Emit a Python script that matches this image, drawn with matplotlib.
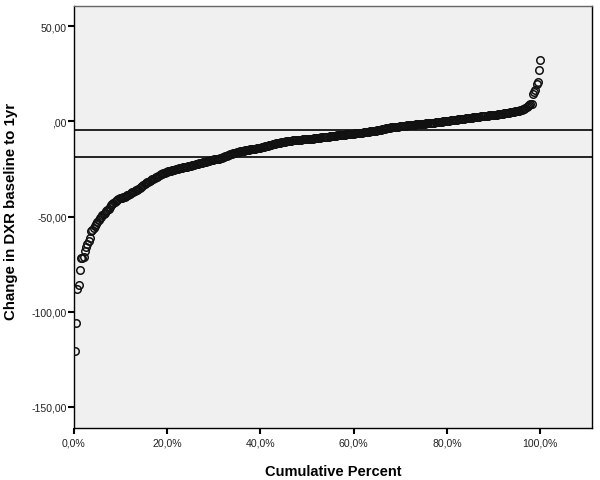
import numpy as np
import pandas as pd
import matplotlib
matplotlib.use("Agg")
import matplotlib.pyplot as plt

# Change in DXR, sorted (one value per case)
change = [
    -120.5, -106.0, -88.0, -86.0, -78.0, -72.0, -71.5, -71.0, -68.0, -66.0, -64.5, -63.0, -61.0, -57.5, -57.0,
    -56.0, -55.0, -54.0, -53.0, -52.0, -51.0, -50.0, -49.0, -48.5, -48.0, -47.0, -46.5, -46.0, -45.0, -44.0,
    -43.5, -43.0, -42.5, -42.0, -41.5, -41.0, -40.5, -40.0, -40.0, -39.5, -39.5, -39.0, -38.5, -38.5, -38.0,
    -37.5, -37.0, -37.0, -36.5, -36.0, -36.0, -35.5, -35.0, -34.5, -34.0, -33.5, -33.0, -32.5, -32.0, -32.0,
    -31.5, -31.0, -30.5, -30.0, -29.5, -29.0, -29.0, -28.5, -28.0, -27.5, -27.5, -27.0, -27.0, -26.5, -26.5,
    -26.0, -26.0, -26.0, -25.5, -25.5, -25.5, -25.0, -25.0, -25.0, -24.5, -24.5, -24.5, -24.0, -24.0, -24.0,
    -24.0, -23.5, -23.5, -23.5, -23.0, -23.0, -23.0, -22.5, -22.5, -22.5, -22.0, -22.0, -22.0, -21.5, -21.5,
    -21.5, -21.0, -21.0, -21.0, -20.5, -20.5, -20.5, -20.0, -20.0, -20.0, -19.5, -19.5, -19.0, -19.0, -18.5,
    -18.5, -18.0, -18.0, -17.5, -17.5, -17.0, -17.0, -16.5, -16.5, -16.5, -16.0, -16.0, -16.0, -15.5, -15.5,
    -15.5, -15.5, -15.0, -15.0, -15.0, -15.0, -14.5, -14.5, -14.5, -14.5, -14.5, -14.0, -14.0, -14.0, -14.0,
    -13.5, -13.5, -13.5, -13.0, -13.0, -13.0, -12.5, -12.5, -12.5, -12.0, -12.0, -12.0, -11.5, -11.5, -11.5,
    -11.5, -11.0, -11.0, -11.0, -11.0, -10.5, -10.5, -10.5, -10.5, -10.5, -10.0, -10.0, -10.0, -10.0, -10.0,
    -9.8, -9.7, -9.6, -9.5, -9.5, -9.4, -9.3, -9.2, -9.2, -9.1, -9.0, -9.0, -8.9, -8.8, -8.8,
    -8.7, -8.6, -8.5, -8.4, -8.4, -8.3, -8.2, -8.1, -8.0, -8.0, -7.9, -7.8, -7.7, -7.6, -7.6,
    -7.5, -7.4, -7.3, -7.2, -7.2, -7.1, -7.0, -6.9, -6.8, -6.8, -6.7, -6.6, -6.6, -6.5, -6.4,
    -6.3, -6.2, -6.2, -6.1, -6.0, -6.0, -5.9, -5.8, -5.7, -5.6, -5.5, -5.4, -5.3, -5.2, -5.1,
    -5.0, -4.9, -4.8, -4.7, -4.6, -4.5, -4.4, -4.2, -4.0, -3.8, -3.6, -3.5, -3.4, -3.3, -3.2,
    -3.1, -3.0, -2.9, -2.9, -2.8, -2.7, -2.6, -2.5, -2.5, -2.4, -2.3, -2.2, -2.1, -2.0, -2.0,
    -1.9, -1.8, -1.8, -1.7, -1.6, -1.6, -1.5, -1.4, -1.4, -1.3, -1.2, -1.2, -1.1, -1.0, -1.0,
    -0.9, -0.8, -0.7, -0.7, -0.6, -0.5, -0.4, -0.4, -0.3, -0.2, -0.1, 0.0, 0.0, 0.1, 0.2,
    0.3, 0.4, 0.5, 0.6, 0.6, 0.7, 0.8, 0.9, 1.0, 1.1, 1.2, 1.3, 1.4, 1.5, 1.6,
    1.7, 1.8, 1.9, 1.9, 2.0, 2.1, 2.2, 2.3, 2.3, 2.4, 2.5, 2.6, 2.6, 2.7, 2.8,
    2.9, 3.0, 3.0, 3.1, 3.2, 3.3, 3.3, 3.4, 3.5, 3.6, 3.7, 3.8, 3.9, 4.0, 4.1,
    4.2, 4.3, 4.4, 4.5, 4.6, 4.7, 4.8, 5.0, 5.1, 5.2, 5.4, 5.5, 5.7, 5.9, 6.1,
    6.4, 6.7, 7.0, 7.4, 7.9, 8.4, 9.0, 9.3, 14.5, 15.5, 16.5, 19.5, 20.5, 27.0, 32.5,
]

# reference lines
ref_lines = [-4.6, -18.6]

y_ticks = [50, 0, -50, -100, -150]
y_tick_labels = ["50,00", ",00", "-50,00", "-100,00", "-150,00"]
x_ticks = [0, 20, 40, 60, 80, 100]
x_tick_labels = ["0,0%", "20,0%", "40,0%", "60,0%", "80,0%", "100,0%"]

df = pd.DataFrame({"change": change})
# cumulative percent the SPSS way: rank / N * 100
df["cum_pct"] = df["change"].rank(method="first", pct=True) * 100

plt.rcParams["font.family"] = ["Liberation Sans", "DejaVu Sans"]

fig = plt.figure(figsize=(6, 4.81), dpi=100)
ax = fig.add_axes([0.1228, 0.1087, 0.8639, 0.8767])
ax.set_facecolor("#f0f0f0")

for y in ref_lines:
    ax.axhline(y, color="black", lw=1.2, zorder=2)

ax.plot(df["cum_pct"], df["change"], linestyle="none", marker="o",
        markersize=5.4, markerfacecolor="none", markeredgecolor="#111111",
        markeredgewidth=1.1, zorder=3)

ax.set_xlim(0, 111.1)
ax.set_ylim(-160.9, 60.6)

ax.set_yticks(y_ticks)
ax.set_yticklabels(y_tick_labels, fontsize=7.6, color="#222222")
ax.set_xticks(x_ticks)
ax.set_xticklabels(x_tick_labels, fontsize=7.6, color="#222222")
ax.tick_params(axis="both", direction="out", length=4, width=1.5, color="black")
ax.tick_params(axis="y", pad=1)
ax.tick_params(axis="x", pad=3)

for side in ["left", "bottom", "right"]:
    ax.spines[side].set_color("black")
    ax.spines[side].set_linewidth(1.0)
ax.spines["top"].set_color("#666666")
ax.spines["top"].set_linewidth(1.0)

ax.set_xlabel("Cumulative Percent", fontsize=10.5, fontweight="bold")
ax.set_ylabel("Change in DXR baseline to 1yr", fontsize=10.8, fontweight="bold")
ax.xaxis.set_label_coords(0.5, -0.086)
ax.yaxis.set_label_coords(-0.108, 0.515)

fig.savefig("out.png", dpi=100)
